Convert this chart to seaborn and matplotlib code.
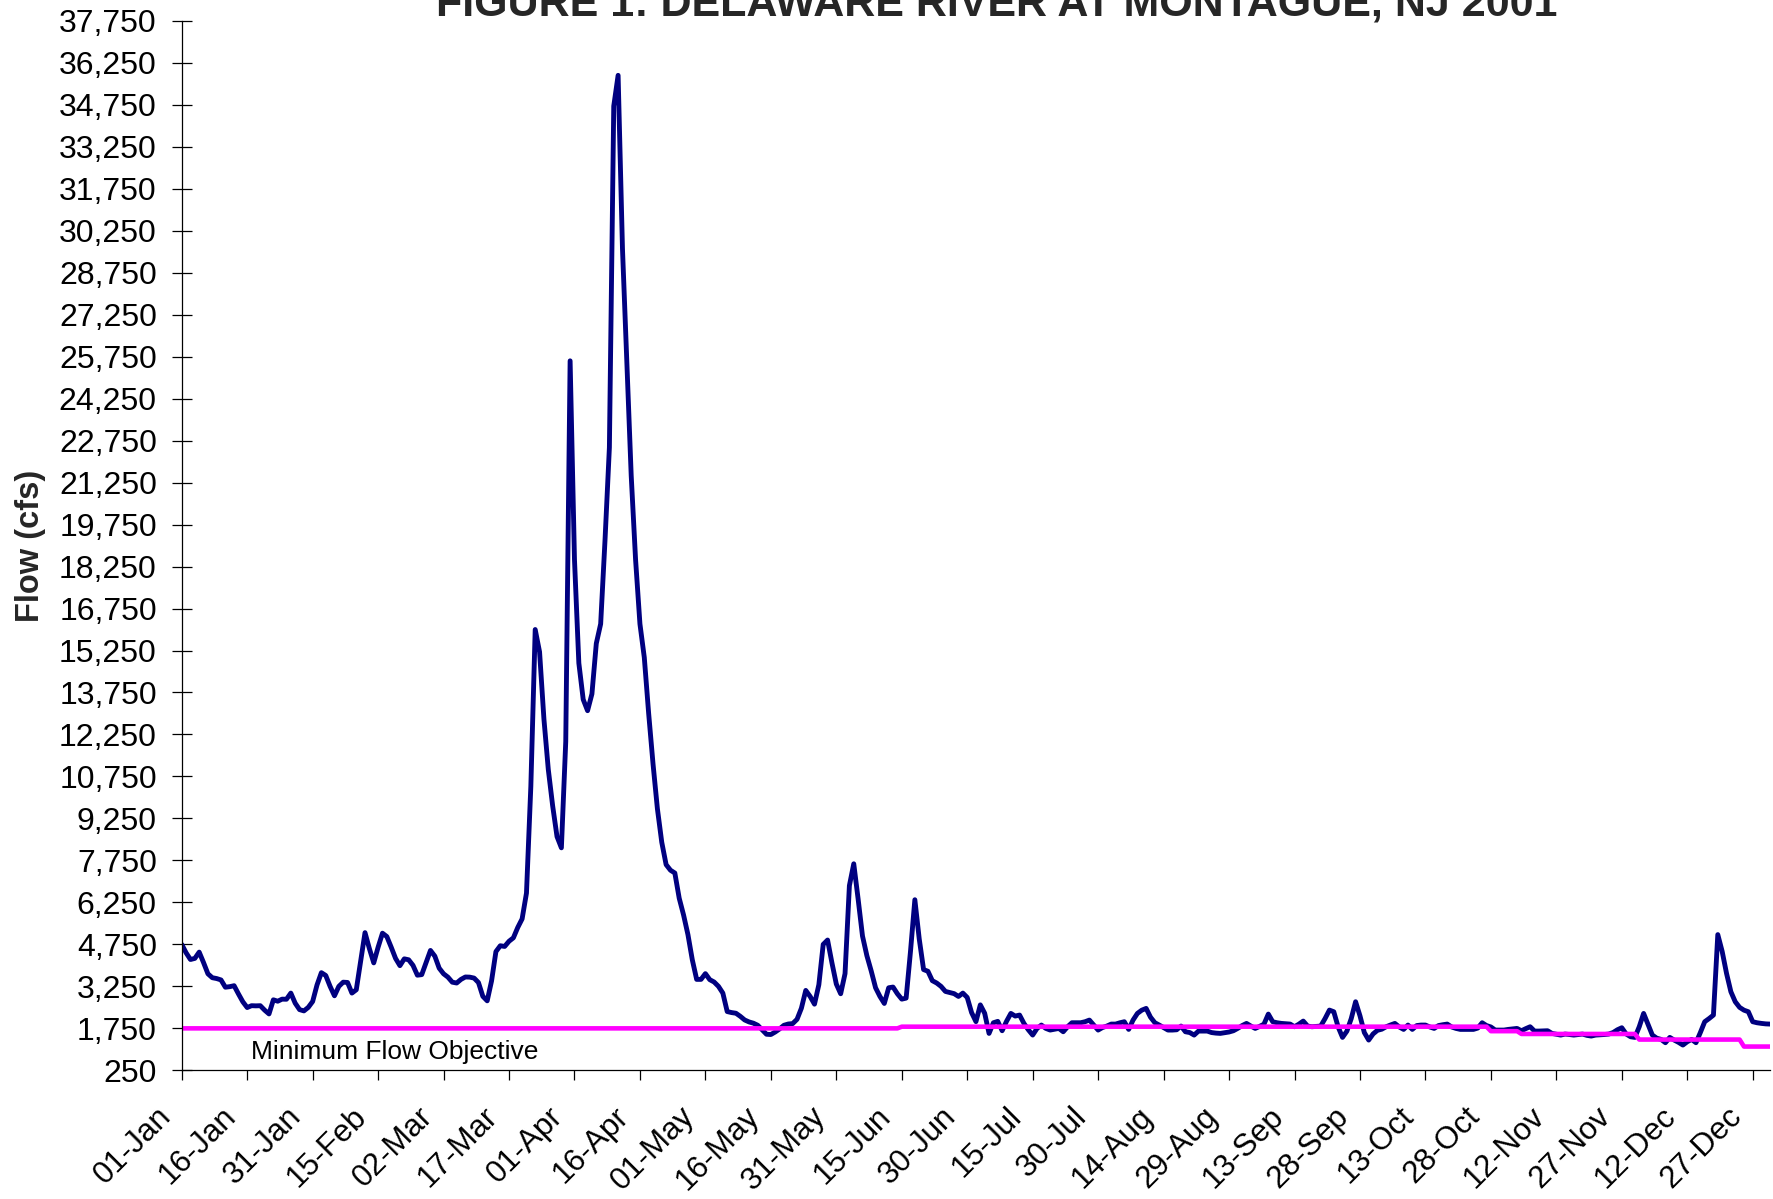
import numpy as np
import pandas as pd
import matplotlib
matplotlib.use("Agg")
import matplotlib.pyplot as plt
import matplotlib.dates as mdates
from matplotlib.ticker import FuncFormatter
from matplotlib.transforms import ScaledTranslation
import seaborn as sns

# daily flow (cfs), Delaware River at Montague NJ, 2001
jan = [4750, 4450, 4210, 4250, 4474, 4100, 3700, 3560, 3530, 3480, 3220, 3240, 3274, 2980, 2700, 2494,
       2560, 2554, 2560, 2400, 2266, 2770, 2720, 2794, 2790, 3010, 2650, 2420, 2374, 2500, 2710]
feb = [3300, 3740, 3640, 3250, 2914, 3250, 3400, 3390, 3010, 3130, 4150, 5170, 4600, 4090, 4650, 5150,
       5030, 4650, 4250, 3990, 4234, 4200, 4000, 3650, 3670, 4100, 4534, 4330]
mar = [3900, 3700, 3580, 3400, 3370, 3500, 3586, 3580, 3546, 3386, 2894, 2734, 3447, 4493, 4702, 4677,
       4862, 4985, 5354, 5661, 6584, 10400, 16000, 15200, 12800, 11000, 9700, 8600, 8200, 12000, 25600]
apr = [18500, 14800, 13500, 13100, 13700, 15500, 16200, 19200, 22500, 34700, 35800, 29600, 25500, 21500,
       18500, 16200, 15000, 13000, 11200, 9600, 8400, 7600, 7400, 7300, 6400, 5800, 5100, 4200, 3500, 3500]
may = [3706, 3490, 3406, 3250, 3010, 2350, 2314, 2290, 2180, 2050, 1980, 1935, 1860, 1700, 1540, 1530,
       1620, 1730, 1860, 1906, 1920, 2074, 2470, 3106, 2890, 2614, 3310, 4750, 4906, 4090, 3334]
jun = [2986, 3706, 6850, 7630, 6370, 5050, 4350, 3800, 3200, 2890, 2640, 3200, 3226, 2986, 2794, 2830,
       4500, 6346, 4950, 3850, 3790, 3454, 3370, 3250, 3070, 3030, 2990, 2890, 3010, 2854]
jul = [2314, 1990, 2590, 2290, 1570, 1950, 2000, 1665, 2000, 2284, 2189, 2225, 1927, 1700, 1510, 1748,
       1868, 1750, 1689, 1720, 1748, 1629, 1808, 1951, 1951, 1951, 1987, 2046, 1868, 1689, 1780]
aug = [1832, 1903, 1903, 1950, 1987, 1713, 2046, 2284, 2400, 2463, 2150, 1951, 1868, 1780, 1689, 1689,
       1700, 1832, 1629, 1600, 1510, 1653, 1653, 1653, 1600, 1580, 1570, 1594, 1620, 1665, 1750]
sep = [1850, 1927, 1832, 1748, 1820, 1900, 2260, 1987, 1950, 1927, 1915, 1903, 1808, 1900, 2010, 1832,
       1808, 1820, 1832, 2100, 2403, 2344, 1800, 1427, 1650, 2100, 2701, 2200, 1600, 1332]
oct_ = [1550, 1680, 1720, 1808, 1870, 1927, 1800, 1713, 1868, 1713, 1850, 1868, 1868, 1800, 1748, 1850,
        1880, 1903, 1800, 1748, 1713, 1713, 1713, 1713, 1760, 1951, 1850, 1800, 1689, 1689, 1689]
nov = [1713, 1730, 1748, 1665, 1740, 1808, 1653, 1653, 1660, 1665, 1570, 1540, 1510, 1546, 1530, 1510,
       1530, 1546, 1500, 1475, 1510, 1520, 1530, 1546, 1600, 1700, 1772, 1550, 1451, 1427]
dec = [1808, 2284, 1900, 1510, 1400, 1356, 1237, 1427, 1332, 1250, 1153, 1272, 1356, 1237, 1600, 1987,
       2100, 2225, 5100, 4500, 3716, 3058, 2700, 2500, 2400, 2344, 1987, 1950, 1927, 1910, 1903]

# minimum flow objective: day of year (0 = 01-Jan) where each level starts
mfo_start_day = [0, 165, 300, 307, 334, 358]
mfo_level = [1750, 1810, 1650, 1550, 1350, 1100]

y_ticks = list(range(250, 37751, 1500))

flow = jan + feb + mar + apr + may + jun + jul + aug + sep + oct_ + nov + dec
dates = pd.date_range("2001-01-01", periods=len(flow), freq="D")
mfo = np.repeat(mfo_level, np.diff(mfo_start_day + [len(flow)]))
df = pd.DataFrame({"date": dates, "flow": flow, "mfo": mfo})
tick_dates = pd.date_range("2001-01-01", "2001-12-31", freq="15D")

sns.set_theme(style="white")
plt.rcParams["font.family"] = ["Liberation Sans", "DejaVu Sans"]

fig = plt.figure(figsize=(17.73, 11.99), dpi=100)
ax = fig.add_axes([0.1025, 0.1073, 0.9984 - 0.1025, 0.9827 - 0.1073])

sns.lineplot(data=df, x="date", y="flow", color="#000080", lw=3.5, ax=ax,
             solid_joinstyle="round", solid_capstyle="round")
sns.lineplot(data=df, x="date", y="mfo", color="#FF00FF", lw=3.3, ax=ax)

ax.set_xlim(dates[0], dates[0] + pd.Timedelta(days=364))
ax.set_ylim(250, 37750)
ax.set_yticks(y_ticks)
ax.yaxis.set_major_formatter(FuncFormatter(lambda v, p: f"{v:,.0f}"))
ax.set_xticks(tick_dates)
ax.xaxis.set_major_formatter(mdates.DateFormatter("%d-%b"))

for s in ["top", "right"]:
    ax.spines[s].set_visible(False)
for s in ["left", "bottom"]:
    ax.spines[s].set_color("black")
    ax.spines[s].set_linewidth(0.9)

ax.tick_params(axis="y", left=True, direction="inout", length=15.1, width=0.9,
               pad=10.4, labelsize=23, colors="black")
ax.tick_params(axis="x", bottom=True, direction="out", length=7.2, width=0.9,
               pad=15, labelsize=22.5, colors="black")
shift = ScaledTranslation(-5 / 100, 0, fig.dpi_scale_trans)
for lbl in ax.get_xticklabels():
    lbl.set_rotation(45)
    lbl.set_ha("right")
    lbl.set_va("top")
    lbl.set_transform(lbl.get_transform() + shift)

ax.set_xlabel("")
ax.set_ylabel("Flow (cfs)", fontsize=23.5, fontweight="bold", va="center")
ax.yaxis.set_label_coords(-0.095, 0.5)

ax.text(0.0435, 0.0108, "Minimum Flow Objective", transform=ax.transAxes,
        fontsize=19, va="baseline", ha="left", color="black")

fig.text(0.5622, 1 - 16 / 1199, "FIGURE 1: DELAWARE RIVER AT MONTAGUE, NJ 2001",
         ha="center", va="baseline", fontsize=31, fontweight="bold")

fig.savefig("out.png", dpi=100)
